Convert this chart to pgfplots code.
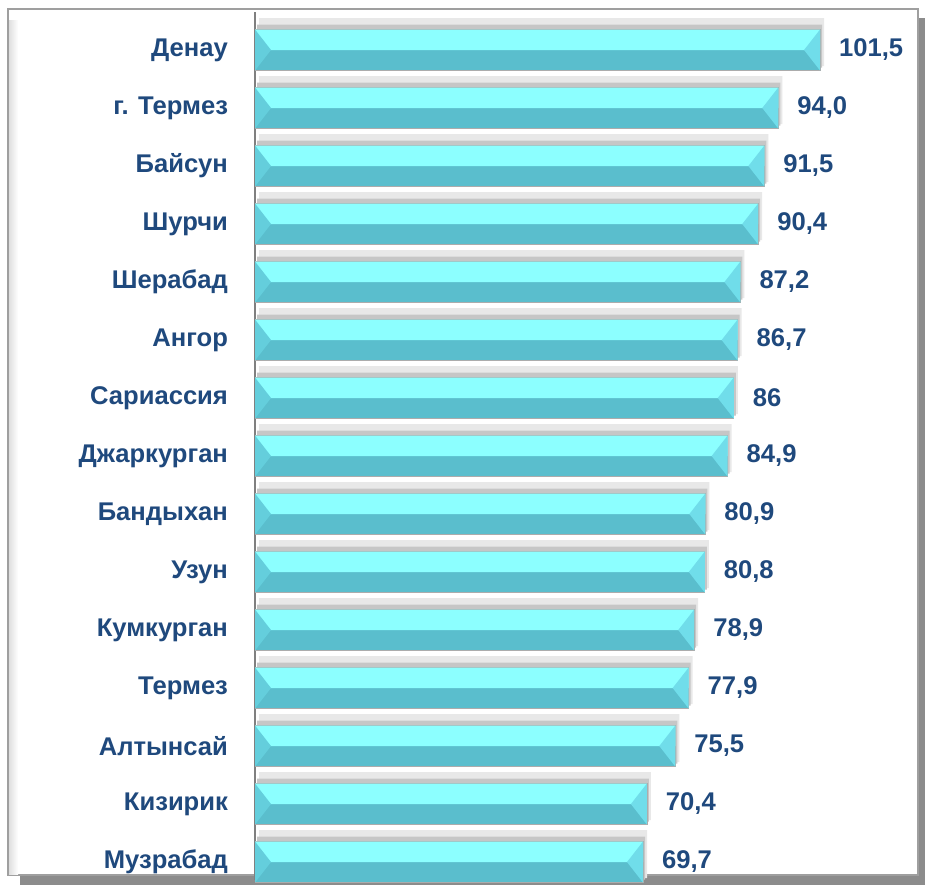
\documentclass[border=0pt]{standalone}
\usepackage{pgfplots}
\pgfplotsset{compat=1.18}
\usepackage{pgfplotstable}
\usepackage{fontspec}
\setmainfont{Liberation Sans}

\definecolor{txtblue}{HTML}{1F497D}
\definecolor{barlt}{HTML}{8CFFFF}
\definecolor{bardk}{HTML}{5ABECD}
\definecolor{capl}{HTML}{64CEDC}
\definecolor{capr}{HTML}{70DDEA}
\definecolor{framegray}{HTML}{8C8C8C}

% bevel caps at the bar ends, drawn as plot marks
\pgfdeclareplotmark{capR}{%
  \pgfpathmoveto{\pgfqpoint{0pt}{10.25pt}}%
  \pgfpathlineto{\pgfqpoint{-8pt}{0pt}}%
  \pgfpathlineto{\pgfqpoint{0pt}{-10.25pt}}%
  \pgfpathclose\pgfusepathqfill}
\pgfdeclareplotmark{capL}{%
  \pgfpathmoveto{\pgfqpoint{0pt}{10.25pt}}%
  \pgfpathlineto{\pgfqpoint{8pt}{0pt}}%
  \pgfpathlineto{\pgfqpoint{0pt}{-10.25pt}}%
  \pgfpathclose\pgfusepathqfill}

\pgfplotstableread{
i  v      z  lab
0  101.5  0  101,5
1  94.0   0  94,0
2  91.5   0  91,5
3  90.4   0  90,4
4  87.2   0  87,2
5  86.7   0  86,7
6  86.0   0  86
7  84.9   0  84,9
8  80.9   0  80,9
9  80.8   0  80,8
10 78.9   0  78,9
11 77.9   0  77,9
12 75.5   0  75,5
13 70.4   0  70,4
14 69.7   0  69,7
}\datatable

\begin{document}
\begin{tikzpicture}
  % frame with shadow
  \useasboundingbox (0,0) rectangle (462.5pt,442.5pt);
  \fill[framegray] (10pt,0) rectangle (462.5pt,433.5pt);
  \filldraw[fill=white, draw=gray!75, line width=1pt] (4pt,5pt) rectangle (459pt,438pt);
  \fill[left color=gray!25, right color=white, draw=none] (4.5pt,5.5pt) rectangle (9pt,432pt);

  \begin{axis}[
      at={(127.5pt,2.5pt)}, anchor=south west,
      scale only axis,
      width=330pt, height=434pt,
      xbar, bar width=20.5pt,
      xmin=0, xmax=118.56,
      ymin=-0.655, ymax=14.31,
      y dir=reverse,
      axis x line=none,
      axis y line*=left,
      y axis line style={draw=gray, line width=1pt, -},
      ytick={0,...,14},
      yticklabels={Денау, г. Термез, Байсун, Шурчи, Шерабад, Ангор, Сариассия,
        Джаркурган, Бандыхан, Узун, Кумкурган, Термез, Алтынсай, Кизирик, Музрабад},
      major tick length=0pt,
      yticklabel style={font=\fontsize{12.8}{14}\selectfont\bfseries, text=txtblue, xshift=-10pt},
      clip=false,
    ]
    % soft shadow behind bars
    \addplot[bar shift=4pt, bar width=24pt, xshift=2pt, draw=none, fill=gray!18]
      table[x=v, y=i] {\datatable};
    \addplot[bar shift=2pt, bar width=21.5pt, xshift=1pt, draw=none, fill=gray!45]
      table[x=v, y=i] {\datatable};
    % bar body: dark lower half
    \addplot[bar shift=0pt, draw=gray!65, line width=0.4pt, fill=bardk,
      point meta=explicit symbolic,
      nodes near coords,
      every node near coord/.style={anchor=west, xshift=6pt,
        font=\fontsize{12.8}{14}\selectfont\bfseries, text=txtblue},
    ] table[x=v, y=i, meta=lab] {\datatable};
    % light upper half
    \addplot[bar shift=5.1pt, bar width=10.2pt, draw=none, fill=barlt]
      table[x=v, y=i] {\datatable};
    % bevel caps
    \addplot[xbar=false, only marks, mark=capR, color=capr]
      table[x=v, y=i] {\datatable};
    \addplot[xbar=false, only marks, mark=capL, color=capl]
      table[x=z, y=i] {\datatable};
  \end{axis}
\end{tikzpicture}
\end{document}
